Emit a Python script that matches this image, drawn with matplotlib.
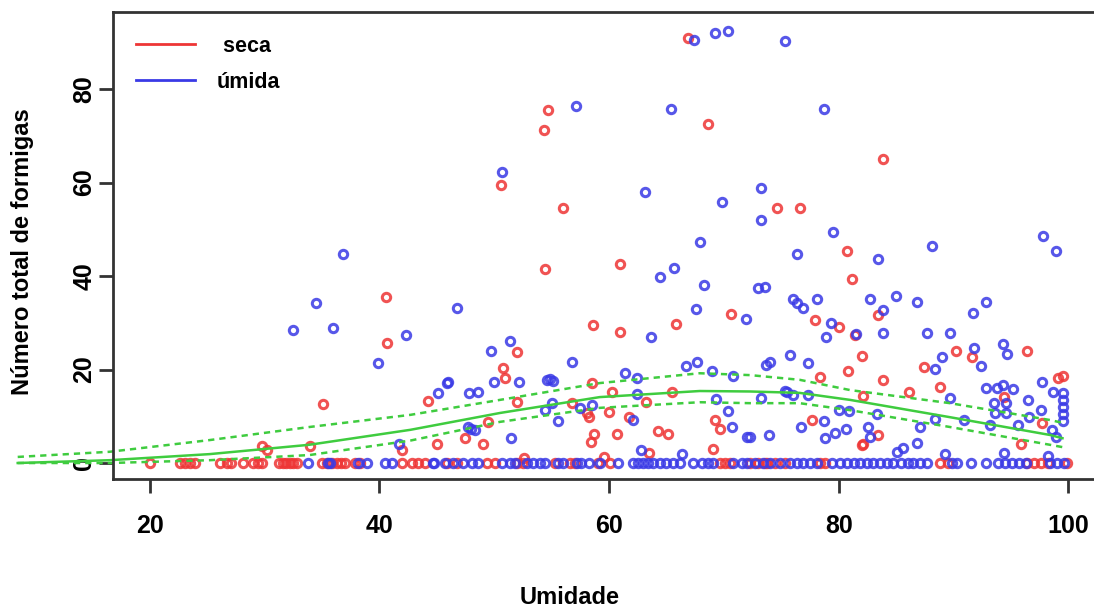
import matplotlib
matplotlib.use("Agg")
import matplotlib.pyplot as plt
from matplotlib.lines import Line2D

plt.rcParams['font.family'] = ['Liberation Sans', 'DejaVu Sans']
plt.rcParams['font.weight'] = 'bold'

# seca (red) points with ants > 0
seca_x = [54.3, 54.7, 50.6, 56.0, 54.4, 40.6, 40.7, 35.1, 61.0, 61.0, 58.6, 66.9, 68.6, 65.8,
          70.6, 74.6, 76.6, 83.9, 80.7, 81.2, 77.9, 80.0, 83.4, 81.4, 82.0, 80.8, 78.4, 83.9,
          90.2, 91.6, 87.4, 88.8, 86.1, 82.1, 96.4, 99.1, 99.5, 94.4, 97.7, 95.9, 77.7, 83.4,
          82.1, 52.0, 50.8, 50.9, 58.5, 29.8, 30.2, 34.0, 42.0, 44.2, 52.0, 56.8, 58.1, 58.3,
          60.3, 60.0, 61.7, 63.2, 65.5, 69.2, 69.7, 45.0, 47.5, 49.0, 49.5, 58.7, 58.4, 60.7,
          64.3, 65.1, 63.5, 69.1, 52.6, 59.6, 82.0]
seca_y = [71.2, 75.5, 59.5, 54.5, 41.5, 35.5, 25.7, 12.6, 42.6, 28.0, 29.5, 90.9, 72.5, 29.7,
          31.9, 54.5, 54.5, 65.0, 45.3, 39.4, 30.6, 29.0, 31.7, 27.4, 22.9, 19.7, 18.4, 17.8,
          24.0, 22.7, 20.5, 16.3, 15.2, 14.3, 24.0, 18.2, 18.6, 14.1, 8.6, 4.1, 9.2, 6.0,
          4.1, 23.7, 20.3, 18.2, 17.1, 3.6, 2.8, 3.6, 2.8, 13.3, 13.0, 12.8, 10.7, 9.8,
          15.2, 10.9, 9.8, 13.0, 15.2, 9.2, 7.3, 4.1, 5.3, 4.1, 8.8, 6.2, 4.5, 6.2,
          6.8, 6.2, 2.1, 3.0, 1.1, 1.3, 3.9]
# seca points with zero ants
seca_zero_x = [20.0, 22.6, 23.1, 23.5, 23.9, 26.1, 26.7, 27.1, 28.1, 29.0, 29.4, 29.8, 31.3,
               31.6, 31.9, 32.2, 32.5, 32.8, 35.0, 35.4, 35.9, 36.3, 36.7, 37.0, 37.9, 38.3,
               42.0, 42.8, 43.4, 44.0, 45.9, 46.8, 49.4, 50.1, 52.0, 52.5, 55.3, 56.6, 57.0,
               59.0, 60.1, 69.7, 70.1, 70.5, 72.3, 73.0, 73.6, 73.8, 74.5, 75.3, 78.4, 78.8,
               88.8, 89.5, 96.4, 97.0, 97.6, 98.2, 99.9]

# umida (blue) points with ants > 0
umida_x = [50.7, 63.1, 69.8, 73.2, 73.2, 67.9, 65.7, 64.4, 68.3, 73.0, 67.6, 71.9, 63.7, 46.8,
           42.3, 51.4, 49.7, 56.8, 46.0, 50.0, 52.2, 54.6, 54.9, 55.1, 66.7, 67.7, 69.0, 70.8,
           61.4, 62.4, 36.8, 34.5, 32.5, 36.0, 39.9, 41.7, 45.9, 45.1, 47.8, 48.6, 55.0, 54.4,
           55.6, 57.5, 58.5, 62.1, 62.4, 69.3, 70.4, 70.7, 72.0, 73.9, 73.2, 75.5, 48.0, 47.7,
           48.3, 51.5, 62.8, 66.4,
           76.9, 76.4, 79.3, 78.9, 81.5, 83.9, 83.9, 87.7, 89.7, 91.7, 92.8, 89.0, 88.4, 91.8,
           92.4, 94.3, 94.7, 89.7, 92.8, 93.8, 94.3, 95.2, 93.5, 94.6, 93.6, 94.6, 96.5, 97.7,
           98.7, 97.6, 96.6, 95.6, 93.2, 90.9, 88.4, 87.1, 86.8, 85.6, 85.1, 89.3, 94.4, 98.2,
           98.6, 98.9, 99.5, 99.5, 99.5, 99.5, 99.5, 76.7, 78.7, 80.0, 80.9, 78.8, 79.7, 80.6,
           82.6, 82.7, 83.3, 75.8, 77.3, 73.7, 74.0, 75.3, 76.0, 77.3, 72.3,
           79.5, 76.4, 83.4, 88.1, 97.8, 98.9, 73.6, 76.0, 78.1, 82.7, 85.0, 86.8, 75.3, 78.7,
           67.4, 69.2, 70.4, 57.1, 65.4]
umida_y = [62.2, 58.0, 55.8, 58.8, 52.0, 47.3, 41.7, 39.8, 38.0, 37.4, 33.0, 30.8, 27.0, 33.2,
           27.4, 26.1, 24.0, 21.6, 17.3, 17.3, 17.3, 17.8, 18.0, 17.6, 20.7, 21.6, 19.7, 18.6,
           19.3, 18.2, 44.7, 34.2, 28.4, 28.8, 21.4, 4.1, 17.1, 15.0, 15.0, 15.2, 12.8, 11.3,
           9.0, 11.8, 12.4, 9.2, 14.8, 13.7, 11.1, 7.7, 5.6, 6.0, 13.9, 15.2, 7.3, 7.6,
           7.0, 5.3, 2.8, 1.9,
           33.1, 34.2, 29.9, 27.0, 27.6, 27.8, 32.7, 27.8, 27.8, 32.1, 34.5, 22.7, 20.1, 24.6,
           20.7, 25.5, 23.3, 13.9, 16.0, 16.0, 16.7, 15.8, 12.8, 12.8, 10.7, 10.7, 13.5, 17.3,
           15.2, 11.3, 9.8, 8.1, 8.1, 9.2, 9.4, 7.7, 4.3, 3.2, 2.4, 1.9, 2.1, 1.5,
           7.1, 5.6, 15.0, 13.5, 12.0, 10.5, 9.0, 7.7, 9.0, 11.3, 11.1, 5.3, 6.4, 7.3,
           7.7, 5.6, 10.5, 23.1, 21.4, 21.0, 21.6, 15.4, 14.5, 14.5, 5.6,
           49.4, 44.7, 43.6, 46.4, 48.6, 45.3, 37.6, 35.1, 35.1, 35.1, 35.7, 34.4, 90.3, 75.7,
           90.5, 92.0, 92.4, 76.4, 75.7]
# umida points with zero ants
umida_zero_x = [33.8, 35.5, 35.7, 38.1, 38.9, 40.5, 41.1, 44.7, 44.8, 45.7, 46.4, 47.3, 48.1,
                48.6, 50.7, 51.4, 51.8, 52.9, 53.4, 54.0, 54.4, 55.6, 56.0, 57.2, 57.6, 58.3,
                59.2, 60.8, 62.1, 62.5, 63.0, 63.4, 63.8, 64.4, 65.0, 65.6, 66.2, 67.3, 68.1,
                68.6, 69.1, 70.8, 71.6, 72.0, 72.7, 73.4, 74.0, 74.9, 75.8, 76.4, 76.9, 77.5,
                78.1, 79.4, 80.1, 80.7, 81.3, 81.9, 82.5, 83.0, 83.6, 84.2, 84.7, 85.4, 86.0,
                86.5, 87.1, 87.7, 89.9, 90.3, 91.5, 92.8, 93.9, 94.5, 95.1, 95.7, 96.3, 98.4,
                99.0, 99.6]

# fitted curve and its bands
fit_x = [8.5, 16.5, 25.2, 33.9, 42.7, 50.5, 59.2, 67.9, 72.3, 76.6, 81.0, 89.7, 98.4, 99.5]
fit_mid = [0.0, 0.6, 1.9, 3.9, 7.1, 10.7, 14.1, 15.4, 15.3, 15.0, 13.5, 9.8, 6.0, 5.3]
fit_up = [1.3, 2.4, 4.9, 7.7, 10.3, 13.5, 17.1, 19.2, 18.8, 17.8, 15.6, 12.8, 9.2, 8.6]
fit_lo = [0.0, 0.0, 0.6, 1.7, 4.8, 8.8, 11.8, 13.0, 12.8, 12.8, 11.3, 7.7, 3.9, 3.4]

RED = '#ee3535'
BLUE = '#3a3ae6'
GREEN = '#3fcc3f'

fig = plt.figure(figsize=(10.94, 6.10), dpi=100)
ax = fig.add_axes([113 / 1094, 131 / 610, 992 / 1094, 467 / 610])

mk = dict(marker='o', linestyle='none', markerfacecolor='none', markersize=6,
          markeredgewidth=2.2, alpha=0.85)
ax.plot(seca_x, seca_y, markeredgecolor=RED, **mk)
ax.plot(seca_zero_x, [0] * len(seca_zero_x), markeredgecolor=RED, **mk)
ax.plot(umida_x, umida_y, markeredgecolor=BLUE, **mk)
ax.plot(umida_zero_x, [0] * len(umida_zero_x), markeredgecolor=BLUE, **mk)

ax.plot(fit_x, fit_mid, color=GREEN, lw=1.8, clip_on=False)
ax.plot(fit_x, fit_up, color=GREEN, lw=1.8, ls=(0, (2.5, 2)), clip_on=False)
ax.plot(fit_x, fit_lo, color=GREEN, lw=1.8, ls=(0, (2.5, 2)), clip_on=False)

ax.set_xlim(16.8, 103.2)
ax.set_ylim(-3.42, 96.47)
ax.set_xticks([20, 40, 60, 80, 100])
ax.set_yticks([0, 20, 40, 60, 80])
for s in ax.spines.values():
    s.set_linewidth(2)
    s.set_color('#333333')
ax.tick_params(direction='out', length=10, width=2, color='#333333', labelsize=18)
ax.tick_params(axis='x', pad=15)
ax.tick_params(axis='y', pad=2)
plt.setp(ax.get_yticklabels(), rotation=90, va='center')

ax.set_xlabel('Umidade', fontsize=17, fontweight='bold')
ax.xaxis.set_label_coords((570 - 113) / 992, (479 - 598) / 467)
ax.xaxis.label.set_va('center')
ax.set_ylabel('Número total de formigas', fontsize=17, fontweight='bold')
ax.yaxis.set_label_coords((23 - 113) / 992, (479 - 252) / 467)
ax.yaxis.label.set_va('center')

handles = [Line2D([], [], color=RED, lw=2), Line2D([], [], color=BLUE, lw=2)]
ax.legend(handles, [' seca', 'úmida'], loc='upper left', frameon=False, fontsize=15.5,
          bbox_to_anchor=(136 / 1094, 1 - 36 / 610), bbox_transform=fig.transFigure,
          borderpad=0, borderaxespad=0, handlelength=2.75, handletextpad=1.0,
          labelspacing=0.68)

fig.savefig('out.png', dpi=100)
